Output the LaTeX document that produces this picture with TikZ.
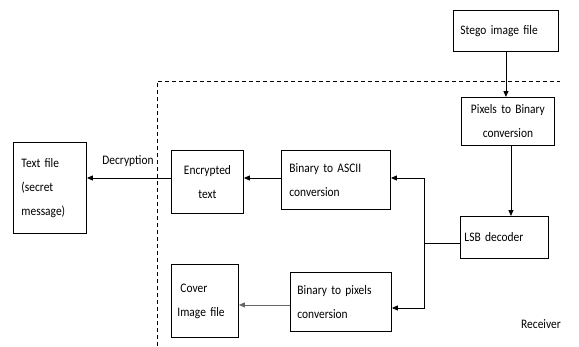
\documentclass[tikz,border=0pt]{standalone}
\usepackage{fontspec}
\setmainfont{Carlito}[FakeStretch=0.88,WordSpace=0.7]
\usetikzlibrary{arrows.meta}
\begin{document}
\begin{tikzpicture}[x=1pt,y=-1pt,
  blk/.style={draw, line width=0.9pt, anchor=north west, inner sep=0pt,
    font=\fontsize{13}{24}\selectfont},
  lbox/.style={blk, align=left},
  cbox/.style={blk, align=center},
  conn/.style={line width=0.9pt, -{Triangle[length=6pt,width=5pt]}},
  dashline/.style={line width=0.9pt, dash pattern=on 4pt off 3pt}]
\useasboundingbox (0,0) rectangle (579,346);
\node[lbox, minimum width=105pt, minimum height=41pt, text width=91pt] (stego) at (453,10) {Stego image file};
\node[cbox, minimum width=93pt, minimum height=48pt, text width=89pt] (pix) at (461,97) {Pixels to Binary\\conversion};
\node[lbox, minimum width=88pt, minimum height=42pt, text width=80pt] (lsb) at (460,216) {LSB decoder};
\node[lbox, minimum width=109pt, minimum height=59pt, text width=93pt] (ascii) at (281,150) {Binary to ASCII\\conversion};
\node[lbox, minimum width=101pt, minimum height=59pt, text width=87pt] (bpix) at (290,272) {Binary to pixels\\conversion};
\node[lbox, minimum width=67pt, minimum height=73pt, text width=55pt] (cover) at (171,264) {\hspace*{3pt}Cover\\Image file};
\node[cbox, minimum width=72pt, minimum height=63pt, text width=68pt] (enc) at (171,150) {Encrypted\\text};
\node[lbox, minimum width=73pt, minimum height=91pt, text width=57pt] (tfile) at (13,142) {Text file\\(secret\\message)};
\node[font=\fontsize{13}{15}\selectfont] (dec) at (128,161) {Decryption};
\node[font=\fontsize{13}{15}\selectfont] (recv) at (541,324) {Receiver};
\coordinate (j) at (424,243);
\coordinate (ja) at (424,178);
\coordinate (jb) at (424,308);
\draw[dashline] (157,346) -- (157,81) -- (560,81);
\draw[conn] (stego.south) -- (stego.south |- pix.north);
\draw[conn] ([xshift=3pt]pix.south) -- ([xshift=3pt]pix.south |- lsb.north);
\draw[line width=0.9pt] (lsb.west |- j) -- (j);
\draw[conn] (j) -- (ja) -- (ja -| ascii.east);
\draw[conn] (j) -- (jb) -- (jb -| bpix.east);
\draw[conn] (ascii.west |- ja) -- (ja -| enc.east);
\draw[conn] (enc.west |- ja) -- (ja -| tfile.east);
\draw[conn, draw=black!60] ([yshift=-3pt]bpix.west) -- ([yshift=-3pt]bpix.west -| cover.east);
\end{tikzpicture}
\end{document}
